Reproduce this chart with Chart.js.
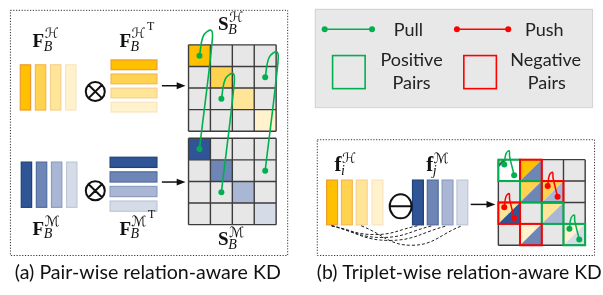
<!DOCTYPE html>
<html>
<head>
<meta charset="utf-8">
<script src="https://cdn.jsdelivr.net/npm/chart.js@4"></script>
<style>
  html, body { margin: 0; padding: 0; background: #fff; }
  #wrap { width: 603px; height: 295px; }
</style>
</head>
<body>
<div id="wrap"><canvas id="fig" width="603" height="295"></canvas></div>
<script>
/* ---- data ---- */
const featureIdx = [0, 1, 2, 3];
const pullPairs = [[0, 0], [2, 1], [1, 3]]; // (row, col) in S_B^H -> S_B^M
const tripletPos = [[0, 0], [1, 1], [2, 2], [3, 3]];
const tripletNeg = [[0, 1], [1, 2], [2, 0], [3, 1]];
const tripletPull = [[0, 0], [3, 3]];
const tripletPush = [[1, 2], [2, 0]];
const dashedLinks = [[0, 0, 9], [0, 1, 12], [0, 2, 15], [2, 3, 20]]; // H bar, M bar, dip
const legendLines = ["Pull", "Push"];
const legendBoxes = [["Positive", "Pairs"], ["Negative", "Pairs"]];
const captions = ["(a) Pair-wise relation-aware KD", "(b) Triplet-wise relation-aware KD"];

/* ---- palette ---- */
const hFill = ["#FFC000", "#FFD34F", "#FFE597", "#FFF2CC"];
const hEdge = ["#EE9B2C", "#F5B84E", "#F8D08E", "#FBE4BF"];
const mFill = ["#2F5597", "#6E86B6", "#A9B7D4", "#D6DCE7"];
const mEdge = ["#213F78", "#516C9F", "#8B9DC0", "#BDC7D9"];
const GREEN = "#00B050";
const RED = "#FF0000";
const CELL_GRAY = "#E7E7E7";

/* ---- layout ---- */
const MAT_UP = { x: 187, y: 42, cell: 22.2 };
const MAT_DN = { x: 187, y: 138, cell: 22.2 };
const MAT_TRI = { x: 501, y: 160, cell: 22 };
const TRI_H_X = [327, 342, 357, 373];
const TRI_M_X = [414, 429, 444, 459];
const TRI_BAR = { y: 181, w: 11, h: 46 };

function cellCenter(m, r, c) {
  return { x: m.x + (c + 0.5) * m.cell, y: m.y + (r + 0.5) * m.cell };
}

// key points of an inverted-U link: start dot, shoulder, top, drop, end dot
function arcPoints(s, e, lift, reach) {
  return [
    s,
    { x: s.x + reach * 0.35, y: s.y - lift * 0.8 },
    { x: s.x + reach, y: s.y - lift },
    { x: s.x + reach * 1.08, y: s.y - lift * 0.6 },
    e,
  ];
}

function linkSet(points, color, width) {
  return {
    data: points,
    showLine: true,
    borderColor: color,
    borderWidth: width,
    tension: 0.4,
    pointRadius: points.map((p, i) => (i === 0 || i === points.length - 1 ? 3 : 0)),
    pointBackgroundColor: color,
    pointBorderWidth: 0,
    clip: false,
  };
}

const datasets = [];
// pair-wise pulls
pullPairs.forEach(([r, c]) => {
  const s = cellCenter(MAT_UP, r, c);
  const e = cellCenter(MAT_DN, r, c);
  datasets.push(linkSet(arcPoints(s, e, 26, 12), GREEN, 1.6));
});
// triplet pulls / pushes
function tripletArc([r, c], color) {
  const ctr = cellCenter(MAT_TRI, r, c);
  const s = { x: ctr.x - 5, y: ctr.y - 6 };
  const e = { x: ctr.x + 5, y: ctr.y + 5 };
  datasets.push(linkSet(arcPoints(s, e, 14, 5), color, 1.5));
}
tripletPull.forEach((p) => tripletArc(p, GREEN));
tripletPush.forEach((p) => tripletArc(p, RED));
// dashed element-wise links
dashedLinks.forEach(([h, m, dip]) => {
  const y0 = TRI_BAR.y + TRI_BAR.h + 1;
  const a = { x: TRI_H_X[h] + 5, y: y0 };
  const b = { x: TRI_M_X[m] + 5, y: y0 };
  datasets.push({
    data: [a, { x: (a.x + b.x) / 2, y: y0 + dip }, b],
    showLine: true,
    borderColor: "#222",
    borderWidth: 1,
    borderDash: [3, 2],
    tension: 0.45,
    pointRadius: 0,
    clip: false,
  });
});
// legend lines
datasets.push(linkSet([{ x: 325, y: 26 }, { x: 373, y: 26 }], GREEN, 1.5));
datasets.push(linkSet([{ x: 459, y: 26 }, { x: 511, y: 26 }], RED, 1.5));

/* ---- drawing of the static figure parts ---- */
const figurePlugin = {
  id: "figure",
  beforeDatasetsDraw(chart) {
    const ctx = chart.ctx;
    const X = (v) => chart.scales.x.getPixelForValue(v);
    const Y = (v) => chart.scales.y.getPixelForValue(v);
    const box = (x, y, w, h) => [X(x), Y(y), X(x + w) - X(x), Y(y + h) - Y(y)];

    ctx.save();
    // dotted panels
    ctx.setLineDash([1.2, 1.6]);
    ctx.lineWidth = 1;
    ctx.strokeStyle = "#333";
    ctx.strokeRect(...box(6.5, 6.5, 281, 252));
    ctx.strokeRect(...box(317.5, 139.5, 281, 119));
    ctx.setLineDash([]);

    // legend panel
    ctx.fillStyle = "#E8E8E8";
    ctx.fillRect(...box(315, 5, 281, 101));
    ctx.strokeStyle = "#D2D2D2";
    ctx.strokeRect(...box(315.5, 5.5, 281, 101));
    ctx.lineWidth = 1.6;
    ctx.strokeStyle = GREEN;
    ctx.strokeRect(...box(333, 53, 33, 34));
    ctx.strokeStyle = RED;
    ctx.strokeRect(...box(466, 53, 33, 34));

    // bars
    const bar = (x, y, w, h, fill, edge) => {
      ctx.fillStyle = fill;
      ctx.fillRect(...box(x, y, w, h));
      ctx.lineWidth = 1.2;
      ctx.strokeStyle = edge;
      ctx.strokeRect(...box(x, y, w, h));
    };
    featureIdx.forEach((k) => {
      bar(16.5 + k * 15.3, 62.5, 10.5, 46.5, hFill[k], hEdge[k]);
      bar(108.5, 57.5 + k * 14.5, 46.5, 10, hFill[k], hEdge[k]);
      bar(17.5 + k * 15.3, 162.5, 10.5, 46.5, mFill[k], mEdge[k]);
      bar(107.5, 157.5 + k * 15, 47.5, 10.5, mFill[k], mEdge[k]);
      bar(TRI_H_X[k], TRI_BAR.y, TRI_BAR.w, TRI_BAR.h, hFill[k], hEdge[k]);
      bar(TRI_M_X[k], TRI_BAR.y, TRI_BAR.w, TRI_BAR.h, mFill[k], mEdge[k]);
    });

    // operators
    ctx.strokeStyle = "#111";
    ctx.lineWidth = 2;
    [90, 192].forEach((cy) => {
      const cx = 92.5, r = 9.5, d = r * Math.SQRT1_2;
      ctx.beginPath();
      ctx.arc(X(cx), Y(cy), r, 0, Math.PI * 2);
      ctx.moveTo(X(cx - d), Y(cy - d));
      ctx.lineTo(X(cx + d), Y(cy + d));
      ctx.moveTo(X(cx + d), Y(cy - d));
      ctx.lineTo(X(cx - d), Y(cy + d));
      ctx.stroke();
    });
    ctx.beginPath();
    ctx.ellipse(X(402), Y(208), 11, 12, 0, 0, Math.PI * 2);
    ctx.moveTo(X(391), Y(208));
    ctx.lineTo(X(413), Y(208));
    ctx.stroke();

    // arrows
    const arrow = (x0, x1, y) => {
      ctx.lineWidth = 1.5;
      ctx.strokeStyle = "#111";
      ctx.fillStyle = "#111";
      ctx.beginPath();
      ctx.moveTo(X(x0), Y(y));
      ctx.lineTo(X(x1 - 6), Y(y));
      ctx.stroke();
      ctx.beginPath();
      ctx.moveTo(X(x1), Y(y));
      ctx.lineTo(X(x1 - 9), Y(y - 3.5));
      ctx.lineTo(X(x1 - 9), Y(y + 3.5));
      ctx.closePath();
      ctx.fill();
    };
    arrow(160, 184, 84);
    arrow(160, 184, 183);
    arrow(473, 498, 206);

    // matrices
    const grid = (m, fillFn) => {
      featureIdx.forEach((r) =>
        featureIdx.forEach((c) => {
          fillFn(m.x + c * m.cell, m.y + r * m.cell, m.cell, r, c);
        })
      );
      ctx.strokeStyle = "#3C3C3C";
      ctx.lineWidth = 1.4;
      ctx.beginPath();
      for (let i = 0; i <= 4; i++) {
        ctx.moveTo(X(m.x + i * m.cell), Y(m.y));
        ctx.lineTo(X(m.x + i * m.cell), Y(m.y + 4 * m.cell));
        ctx.moveTo(X(m.x), Y(m.y + i * m.cell));
        ctx.lineTo(X(m.x + 4 * m.cell), Y(m.y + i * m.cell));
      }
      ctx.stroke();
    };
    const diagFill = (shades) => (x, y, s, r, c) => {
      ctx.fillStyle = r === c ? shades[r] : CELL_GRAY;
      ctx.fillRect(...box(x, y, s, s));
    };
    grid(MAT_UP, diagFill(hFill));
    grid(MAT_DN, diagFill(mFill));

    const marked = tripletPos.map((p) => [...p, GREEN])
      .concat(tripletNeg.map((p) => [...p, RED]))
      .sort((a, b) => a[0] * 4 + a[1] - (b[0] * 4 + b[1]));
    const tri = (pts, color) => {
      ctx.fillStyle = color;
      ctx.beginPath();
      pts.forEach(([px, py], i) => (i ? ctx.lineTo(X(px), Y(py)) : ctx.moveTo(X(px), Y(py))));
      ctx.closePath();
      ctx.fill();
    };
    grid(MAT_TRI, (x, y, s, r, c) => {
      const hit = marked.find((p) => p[0] === r && p[1] === c);
      if (!hit) {
        ctx.fillStyle = CELL_GRAY;
        ctx.fillRect(...box(x, y, s, s));
      } else if (r === 0 && c === 0) {
        ctx.fillStyle = "#fff";
        ctx.fillRect(...box(x, y, s, s));
        tri([[x, y], [x + 8, y], [x, y + 8]], mFill[c]);
        tri([[x, y], [x + 5, y], [x, y + 5]], hFill[r]);
      } else {
        tri([[x, y], [x + s, y], [x, y + s]], hFill[r]);
        tri([[x + s, y], [x + s, y + s], [x, y + s]], mFill[c]);
      }
    });
    ctx.lineWidth = 2;
    marked.forEach(([r, c, color]) => {
      const s = MAT_TRI.cell;
      ctx.strokeStyle = color;
      ctx.strokeRect(...box(MAT_TRI.x + c * s, MAT_TRI.y + r * s, s, s));
    });
    ctx.restore();
  },

  afterDatasetsDraw(chart) {
    const ctx = chart.ctx;
    const X = (v) => chart.scales.x.getPixelForValue(v);
    const Y = (v) => chart.scales.y.getPixelForValue(v);
    ctx.save();
    ctx.textBaseline = "alphabetic";
    ctx.fillStyle = "#111";

    const math = (x, y, base, sub, sup, tee, size) => {
      ctx.font = `bold ${size}px 'Liberation Serif', 'DejaVu Serif', serif`;
      ctx.fillText(base, X(x), Y(y));
      const w = ctx.measureText(base).width;
      ctx.font = "italic 14px 'Liberation Serif', 'DejaVu Serif', serif";
      ctx.fillText(sub, X(x) + w - 0.5, Y(y + 4));
      ctx.font = "italic 14px 'DejaVu Serif', 'DejaVu Sans', serif";
      ctx.fillText(sup, X(x) + w + 0.5, Y(y - 9));
      if (tee) {
        const sw = ctx.measureText(sup).width;
        ctx.font = "12px 'Liberation Serif', serif";
        ctx.fillText("T", X(x) + w + sw + 2, Y(y - 17));
      }
    };
    math(29, 44, "F", "B", "\u210B", false, 19);
    math(117, 44, "F", "B", "\u210B", true, 19);
    math(217, 27, "S", "B", "\u210B", false, 19);
    math(29, 237, "F", "B", "\u2133", false, 19);
    math(117, 237, "F", "B", "\u2133", true, 19);
    math(217, 248, "S", "B", "\u2133", false, 19);
    math(335, 172, "f", "i", "\u210B", false, 21);
    math(428, 172, "f", "j", "\u2133", false, 21);

    ctx.fillStyle = "#222";
    ctx.font = "18px Lato, 'Open Sans', sans-serif";
    ctx.fillText(legendLines[0], X(395), Y(33));
    ctx.fillText(legendLines[1], X(528), Y(33));
    ctx.textAlign = "center";
    ctx.fillText(legendBoxes[0][0], X(413), Y(64));
    ctx.fillText(legendBoxes[0][1], X(413), Y(87));
    ctx.fillText(legendBoxes[1][0], X(549), Y(64));
    ctx.fillText(legendBoxes[1][1], X(550), Y(87));
    ctx.textAlign = "left";

    ctx.fillStyle = "#111";
    ctx.font = "20px Lato, 'Open Sans', sans-serif";
    const fit = (text, x, y, width) => {
      const k = width / ctx.measureText(text).width;
      ctx.save();
      ctx.translate(X(x), Y(y));
      ctx.scale(k, 1);
      ctx.fillText(text, 0, 0);
      ctx.restore();
    };
    fit(captions[0], 11, 283, 266);
    fit(captions[1], 317, 283, 285);
    ctx.restore();
  },
};

new Chart(document.getElementById("fig"), {
  type: "scatter",
  data: { datasets },
  options: {
    responsive: false,
    animation: false,
    devicePixelRatio: 1,
    events: [],
    layout: { padding: 0 },
    scales: {
      x: { type: "linear", min: 0, max: 603, display: false },
      y: { type: "linear", min: 0, max: 295, reverse: true, display: false },
    },
    plugins: { legend: { display: false }, tooltip: { enabled: false } },
  },
  plugins: [figurePlugin],
});
</script>
</body>
</html>
